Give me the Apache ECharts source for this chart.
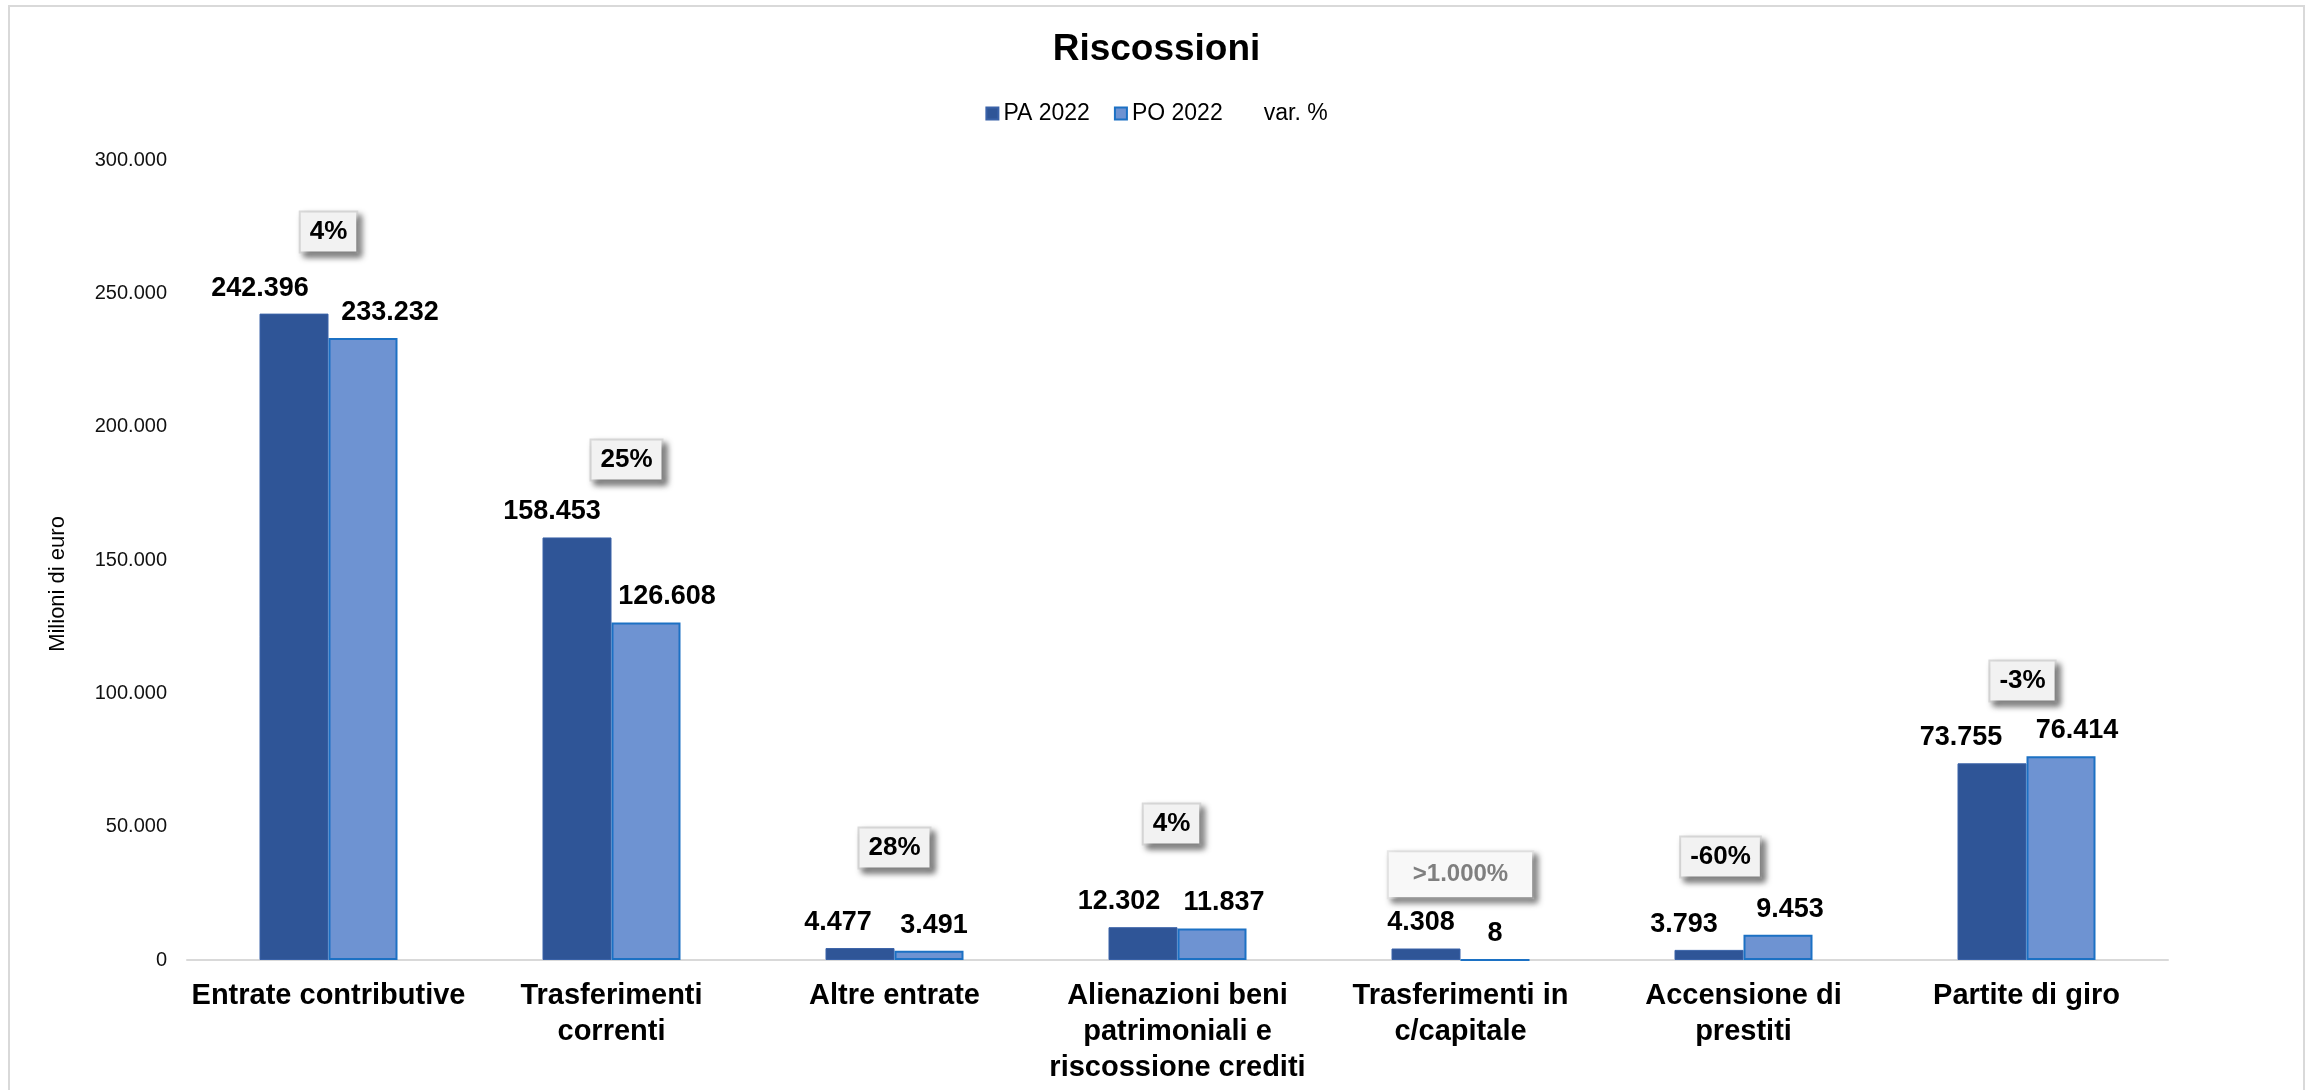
<!DOCTYPE html>
<html>
<head>
<meta charset="utf-8">
<title>Riscossioni</title>
<script src="https://cdn.jsdelivr.net/npm/echarts@6/dist/echarts.min.js"></script>
<style>
    html, body { margin: 0; padding: 0; background: #fff; }
    #main { width: 2313px; height: 1090px; }
</style>
</head>
<body>
<div id="main"></div>
<script>
// dati del grafico
const categories = [
    'Entrate contributive',
    'Trasferimenti\ncorrenti',
    'Altre entrate',
    'Alienazioni beni\npatrimoniali e\nriscossione crediti',
    'Trasferimenti in\nc/capitale',
    'Accensione di\nprestiti',
    'Partite di giro'
];
const pa2022 = [242396, 158453, 4477, 12302, 4308, 3793, 73755];
const po2022 = [233232, 126608, 3491, 11837, 8, 9453, 76414];
const varPct = ['4%', '25%', '28%', '4%', '>1.000%', '-60%', '-3%'];
// quota (in milioni) a cui stanno le etichette var. %
const varLevel = [273000, 187500, 42000, 51000, 32000, 38600, 104600];

// piccoli spostamenti orizzontali delle etichette, come nell'originale
const paShift = [-34, -25, -22, -24, -5, -25, -31];
const poShift = [27, 21, 5, 12, 0, 12, 16];
const varShift = [0, 15, 0, -6, 0, -23, -4];

const FONT = "'Liberation Sans', Arial, sans-serif";

function fmt(v) {
    return String(v).replace(/\B(?=(\d{3})+(?!\d))/g, '.');
}

function barData(values, shifts) {
    return values.map((v, i) => ({
        value: v,
        label: { offset: [shifts[i], 0] }
    }));
}

const varData = varLevel.map((v, i) => {
    const item = { value: v, label: { offset: [varShift[i], 0], formatter: varPct[i] } };
    if (varPct[i].startsWith('>')) {
        // casella più larga e grigia
        item.label.color = '#7f7f7f';
        item.label.fontSize = 24;
        item.label.padding = [11, 24, 10, 24];
        item.label.backgroundColor = '#f8f8f8';
        item.label.borderColor = '#e6e6e6';
    }
    return item;
});

const chart = echarts.init(document.getElementById('main'));
chart.setOption({
    animation: false,
    textStyle: { fontFamily: FONT },
    title: {
        text: 'Riscossioni',
        left: 'center',
        top: 26,
        textStyle: { fontSize: 37, fontWeight: 'bold', color: '#000', fontFamily: FONT }
    },
    legend: {
        top: 97,
        left: 'center',
        itemWidth: 12,
        itemHeight: 12,
        itemGap: 24,
        textStyle: { fontSize: 23, color: '#000', fontFamily: FONT },
        data: [
            { name: 'PA 2022', icon: 'rect' },
            { name: 'PO 2022', icon: 'rect' },
            { name: 'var. %', icon: 'rect', itemStyle: { color: 'transparent', borderWidth: 0 } }
        ]
    },
    graphic: [{
        type: 'rect',
        shape: { x: 9, y: 6, width: 2295, height: 1200 },
        style: { fill: 'none', stroke: '#d9d9d9', lineWidth: 2 },
        silent: true
    }],
    grid: { left: 187, right: 145, top: 160, bottom: 130 },
    xAxis: {
        type: 'category',
        data: categories,
        axisTick: { show: false },
        axisLine: { lineStyle: { color: '#d9d9d9', width: 2 } },
        axisLabel: {
            interval: 0,
            margin: 18,
            fontSize: 29,
            fontWeight: 'bold',
            lineHeight: 36,
            color: '#000',
            fontFamily: FONT
        }
    },
    yAxis: {
        type: 'value',
        min: 0,
        max: 300000,
        interval: 50000,
        name: 'Milioni di euro',
        nameLocation: 'middle',
        nameRotate: 90,
        nameGap: 118,
        nameTextStyle: {
            fontSize: 22,
            color: '#000',
            padding: [0, 48, 0, 0],
            fontFamily: "'Liberation Sans Narrow', 'Liberation Sans', Arial, sans-serif"
        },
        splitLine: { show: false },
        axisLine: { show: false },
        axisTick: { show: false },
        axisLabel: {
            margin: 20,
            fontSize: 20,
            color: '#111',
            fontFamily: FONT,
            formatter: fmt
        }
    },
    series: [
        {
            name: 'PA 2022',
            type: 'bar',
            barWidth: 69,
            barGap: '0%',
            data: barData(pa2022, paShift),
            itemStyle: { color: '#2F5597', borderColor: '#3a62a8', borderWidth: 1 },
            label: {
                show: true,
                position: 'top',
                distance: 12,
                fontSize: 27,
                fontWeight: 'bold',
                color: '#000',
                fontFamily: FONT,
                formatter: p => fmt(p.value)
            }
        },
        {
            name: 'PO 2022',
            type: 'bar',
            barWidth: 69,
            barGap: '0%',
            data: barData(po2022, poShift),
            itemStyle: { color: '#6E93D2', borderColor: '#1C71C4', borderWidth: 2 },
            label: {
                show: true,
                position: 'top',
                distance: 12,
                fontSize: 27,
                fontWeight: 'bold',
                color: '#000',
                fontFamily: FONT,
                formatter: p => fmt(p.value)
            }
        },
        {
            name: 'var. %',
            type: 'scatter',
            symbol: 'rect',
            symbolSize: 1,
            z: 5,
            itemStyle: { color: 'transparent', opacity: 1 },
            data: varData,
            label: {
                show: true,
                position: 'inside',
                opacity: 1,
                fontSize: 26,
                fontWeight: 'bold',
                color: '#000',
                fontFamily: FONT,
                backgroundColor: '#f2f2f2',
                borderColor: '#d9d9d9',
                borderWidth: 2,
                padding: [7, 9, 6, 9],
                shadowColor: 'rgba(0,0,0,0.45)',
                shadowBlur: 6,
                shadowOffsetX: 4,
                shadowOffsetY: 4
            }
        }
    ]
});
</script>
</body>
</html>
